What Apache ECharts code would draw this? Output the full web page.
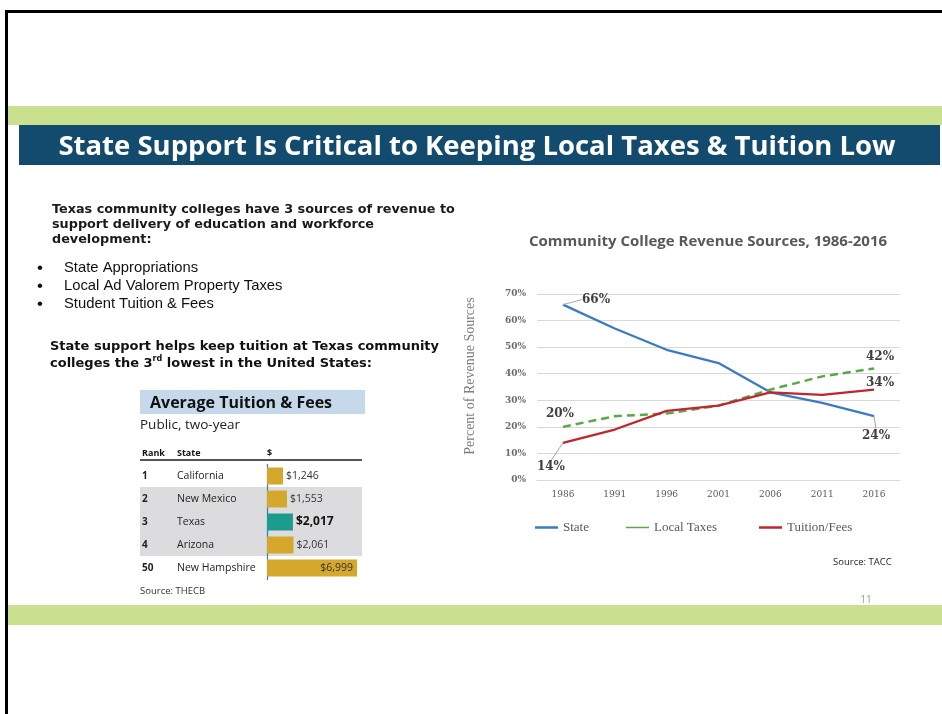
<!DOCTYPE html>
<html><head><meta charset="utf-8">
<script src="https://cdn.jsdelivr.net/npm/echarts@6/dist/echarts.min.js"></script>
<style>html,body{margin:0;padding:0;background:#fff}#c{width:942px;height:714px}</style>
</head><body><div id="c"></div>
<script>
// ---- Line chart data ----
const years = ['1986','1991','1996','2001','2006','2011','2016'];
const stateShare = [66, 57, 49, 44, 33, 29, 24];
const localTaxes = [20, 24, 25, 28, 34, 39, 42];
const tuitionFees = [14, 19, 26, 28, 33, 32, 34];
const yTicks = [0, 10, 20, 30, 40, 50, 60, 70];
// ---- Tuition table data ----
const ranks = ['1', '2', '3', '4', '50'];
const states = ['California', 'New Mexico', 'Texas', 'Arizona', 'New Hampshire'];
const tuition = [1246, 1553, 2017, 2061, 6999];

const chart = echarts.init(document.getElementById('c'), null, {renderer: 'canvas'});
const serif = '"DejaVu Serif", serif';
const tserif = '"Liberation Serif", serif';
const sans = '"Open Sans", sans-serif';

// which end points get labels, and offsets (style)
const labelCfg = {
  0: {0: {pos: 'right', dx: 14, dy: -5, line: true}, 6: {pos: 'bottom', dx: 2, dy: 9, line: true}},
  1: {0: {pos: 'top', dx: -3, dy: -2}, 6: {pos: 'top', dx: 6, dy: -1}},
  2: {0: {pos: 'bottom', dx: -12, dy: 13, line: true}, 6: {pos: 'top', dx: 6, dy: 4}}
};
function mkData(arr, si) {
  return arr.map((v, i) => {
    const c = labelCfg[si][i];
    if (!c) return v;
    return {value: v, label: {show: true, position: c.pos}, labelLine: {show: !!c.line}};
  });
}
const lbl = {show: false, formatter: p => p.value + '%', fontFamily: serif, fontWeight: 'bold', fontSize: 12, color: '#404040'};
const labelLine = {lineStyle: {color: '#a6a6a6', width: 1}};
function layoutFor(si) {
  return function (p) {
    const c = labelCfg[si][p.dataIndex];
    if (!c) return {};
    return {dx: c.dx, dy: c.dy};
  };
}

const rowLabel = (v, i) => '{r|' + ranks[i] + '}{s|' + v + '}';

const option = {
  animation: false,
  textStyle: {fontFamily: sans},
  grid: [
    {left: 537, right: 42, top: 294, bottom: 234},
    {left: 267, right: 585, top: 464.5, bottom: 134.5}
  ],
  xAxis: [
    {type: 'category', data: years, gridIndex: 0, boundaryGap: true,
     axisLine: {lineStyle: {color: '#d9d9d9'}}, axisTick: {show: false},
     axisLabel: {fontFamily: serif, fontSize: 9, color: '#595959', margin: 10}},
    {type: 'value', gridIndex: 1, min: 0, max: 7000, show: false}
  ],
  yAxis: [
    {type: 'value', gridIndex: 0, min: 0, max: 70, interval: 10,
     axisLine: {show: false}, axisTick: {show: false},
     splitLine: {lineStyle: {color: '#d9d9d9'}},
     axisLabel: {fontFamily: serif, fontSize: 9, fontWeight: 'bold', color: '#6b6b6b', formatter: v => yTicks.includes(v) ? v + '%' : '', margin: 11}},
    {type: 'category', gridIndex: 1, data: states, inverse: true,
     axisLine: {show: true, lineStyle: {color: '#2d7fc1', width: 1.2}}, axisTick: {show: false},
     axisLabel: {margin: 0, formatter: rowLabel,
       rich: {
         r: {width: 35, align: 'left', fontSize: 10, fontWeight: 'bold', color: '#222', fontFamily: sans},
         s: {width: 90, align: 'left', fontSize: 10.5, color: '#222', fontFamily: sans}
       }}}
  ],
  legend: [
    {data: ['State'], left: 530, top: 516, icon: 'rect', itemWidth: 23, itemHeight: 2.5, itemGap: 0,
     textStyle: {fontFamily: tserif, fontSize: 13, color: '#595959'}},
    {data: ['Local Taxes'], left: 621, top: 516, icon: 'rect', itemWidth: 23, itemHeight: 1.5, itemGap: 0,
     textStyle: {fontFamily: tserif, fontSize: 13, color: '#595959'}},
    {data: ['Tuition/Fees'], left: 754, top: 516, icon: 'rect', itemWidth: 23, itemHeight: 2.5, itemGap: 0,
     textStyle: {fontFamily: tserif, fontSize: 13, color: '#595959'}}
  ],
  series: [
    {name: 'State', type: 'line', xAxisIndex: 0, yAxisIndex: 0, data: mkData(stateShare, 0),
     symbol: 'circle', symbolSize: 0.01, showSymbol: true, color: '#3b7bc3',
     lineStyle: {width: 2.3, color: '#3b7bc3'}, label: lbl, labelLine: labelLine, labelLayout: layoutFor(0)},
    {name: 'Local Taxes', type: 'line', xAxisIndex: 0, yAxisIndex: 0, data: mkData(localTaxes, 1),
     symbol: 'circle', symbolSize: 0.01, showSymbol: true, color: '#58a847',
     lineStyle: {width: 2.5, color: '#58a847', type: [8, 5]}, label: lbl, labelLine: labelLine, labelLayout: layoutFor(1)},
    {name: 'Tuition/Fees', type: 'line', xAxisIndex: 0, yAxisIndex: 0, data: mkData(tuitionFees, 2),
     symbol: 'circle', symbolSize: 0.01, showSymbol: true, color: '#c0262d',
     lineStyle: {width: 2.3, color: '#c0262d'}, label: lbl, labelLine: labelLine, labelLayout: layoutFor(2), z: 3},
    {name: 'Tuition', type: 'bar', xAxisIndex: 1, yAxisIndex: 1, barWidth: 17,
     data: tuition.map((v, i) => ({
       value: v,
       itemStyle: {color: i === 2 ? '#1c9c8c' : '#d5a82b'},
       label: i === 4 ? {position: 'insideRight', distance: 4} : (i === 2 ? {fontWeight: 'bold', fontSize: 12, color: '#111'} : {})
     })),
     label: {show: true, position: 'right', distance: 3, fontFamily: sans, fontSize: 10.5, color: '#333',
       formatter: p => '$' + p.value.toLocaleString('en-US')}}
  ],
  graphic: [
    // slide frame
    {type: 'rect', shape: {x: 5, y: 10, width: 940, height: 3}, style: {fill: '#000'}, z: 10},
    {type: 'rect', shape: {x: 5, y: 10, width: 3, height: 710}, style: {fill: '#000'}, z: 10},
    // green bands
    {type: 'rect', shape: {x: 8, y: 106, width: 934, height: 19}, style: {fill: '#c9e08e'}, z: -1},
    {type: 'rect', shape: {x: 8, y: 605, width: 934, height: 20}, style: {fill: '#c9e08e'}, z: -1},
    // title bar
    {type: 'rect', shape: {x: 19, y: 125, width: 921, height: 40}, style: {fill: '#124b6e'}, z: -1},
    {type: 'text', x: 477, y: 147, style: {text: 'State Support Is Critical to Keeping Local Taxes & Tuition Low', fill: '#fff',
      font: 'bold 27.5px "Open Sans", sans-serif', textAlign: 'center', textVerticalAlign: 'middle'}},
    // left text
    {type: 'text', x: 52, y: 202, style: {text: 'Texas community colleges have 3 sources of revenue to\nsupport delivery of education and workforce\ndevelopment:',
      fill: '#1a1a1a', font: 'bold 12.8px "DejaVu Sans", sans-serif', lineHeight: 15}},
    {type: 'text', x: 37, y: 259, style: {text: '•\n•\n•', fill: '#111', font: '17px "Liberation Sans", sans-serif', lineHeight: 18}},
    {type: 'text', x: 64, y: 259, style: {text: 'State Appropriations\nLocal Ad Valorem Property Taxes\nStudent Tuition & Fees',
      fill: '#111', font: '14.8px "Liberation Sans", sans-serif', lineHeight: 18}},
    {type: 'text', x: 50, y: 338, style: {text: '{a|State support helps keep tuition at Texas community}\n{a|colleges the 3}{s|rd}{a| lowest in the United States:}',
      rich: {a: {font: 'bold 13px "DejaVu Sans", sans-serif', fill: '#111', lineHeight: 17},
             s: {font: 'bold 8px "DejaVu Sans", sans-serif', fill: '#111', verticalAlign: 'top', lineHeight: 12, padding: [0,0,6,0]}}}},
    // table inset
    {type: 'rect', shape: {x: 140, y: 390, width: 225, height: 24}, style: {fill: '#c5d9ea'}, z: -1},
    {type: 'text', x: 150, y: 403, style: {text: 'Average Tuition & Fees', fill: '#111', font: 'bold 16px "Open Sans", sans-serif', textVerticalAlign: 'middle'}},
    {type: 'text', x: 140, y: 425, style: {text: 'Public, two-year', fill: '#222', font: '13.5px "Open Sans", sans-serif', textVerticalAlign: 'middle'}},
    {type: 'text', x: 142, y: 453, style: {text: 'Rank', fill: '#111', font: 'bold 9px "Open Sans", sans-serif', textVerticalAlign: 'middle'}},
    {type: 'text', x: 177, y: 453, style: {text: 'State', fill: '#111', font: 'bold 9px "Open Sans", sans-serif', textVerticalAlign: 'middle'}},
    {type: 'text', x: 267, y: 453, style: {text: '$', fill: '#111', font: 'bold 9px "Open Sans", sans-serif', textVerticalAlign: 'middle'}},
    {type: 'rect', shape: {x: 140, y: 459, width: 222, height: 2}, style: {fill: '#555'}},
    {type: 'rect', shape: {x: 140, y: 487, width: 222, height: 69}, style: {fill: '#dcdcde'}, z: -1},
    {type: 'text', x: 140, y: 591, style: {text: 'Source: THECB', fill: '#333', font: '9.5px "Open Sans", sans-serif', textVerticalAlign: 'middle'}},
    // chart title, axis name & sources
    {type: 'text', x: 708, y: 242, style: {text: 'Community College Revenue Sources, 1986-2016', fill: '#595959',
      font: 'bold 15px "Open Sans", sans-serif', textAlign: 'center', textVerticalAlign: 'middle'}},
    {type: 'text', x: 470, y: 376, rotation: Math.PI / 2, style: {text: 'Percent of Revenue Sources', fill: '#7f7f7f',
      font: '14px "Liberation Serif", serif', textAlign: 'center', textVerticalAlign: 'middle'}},
    {type: 'text', x: 833, y: 562, style: {text: 'Source: TACC', fill: '#222', font: '9.5px "Open Sans", sans-serif', textVerticalAlign: 'middle'}},
    {type: 'text', x: 866, y: 600, style: {text: '11', fill: '#9a9a9a', font: '10px "Open Sans", sans-serif', textAlign: 'center', textVerticalAlign: 'middle'}}
  ]
};
chart.setOption(option);
</script></body></html>
